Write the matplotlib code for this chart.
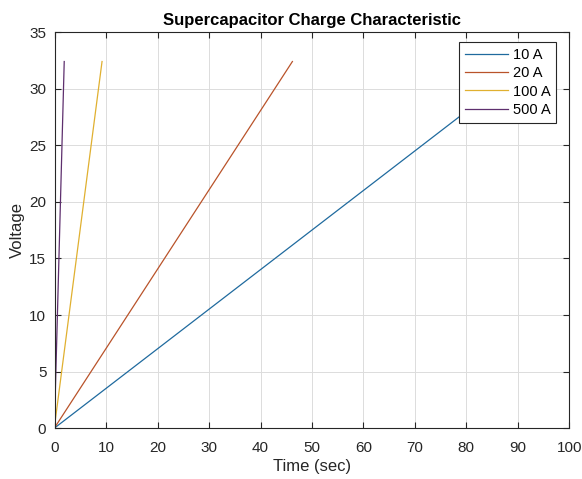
import matplotlib
matplotlib.use('Agg')
import matplotlib.pyplot as plt

plt.rcParams['font.family'] = ['Liberation Sans', 'DejaVu Sans']

# charge curves: time (sec) vs voltage, one per charging current
labels = ['10 A', '20 A', '100 A', '500 A']
t_10 = [0, 0, 92.6]
v_10 = [0, 0.03, 32.4]
t_20 = [0, 0, 46.2]
v_20 = [0, 0.06, 32.4]
t_100 = [0, 0, 9.2]
v_100 = [0, 0.3, 32.4]
t_500 = [0, 0.02, 1.85]
v_500 = [0, 1.5, 32.4]
colors = ['#1f6a9e', '#b9532a', '#e0b030', '#5e2f6e']

fig = plt.figure(figsize=(5.82, 4.79), dpi=100)
ax = fig.add_axes([0.094, 0.106, 0.884, 0.827])

for t, v, c, lab in zip([t_10, t_20, t_100, t_500], [v_10, v_20, v_100, v_500], colors, labels):
    ax.plot(t, v, color=c, lw=0.9, label=lab)

ax.set_xlim(0, 100)
ax.set_ylim(0, 35)
ax.set_xticks(range(0, 101, 10))
ax.set_yticks(range(0, 36, 5))
ax.grid(True, color='#dcdcdc', lw=0.7)
ax.set_axisbelow(True)
ax.tick_params(direction='in', length=4, labelsize=11, colors='#262626', top=True, right=True)
ax.tick_params(axis='x', pad=9)
ax.tick_params(axis='y', pad=6)
for s in ax.spines.values():
    s.set_color('#262626')
    s.set_linewidth(0.8)

ax.set_xlabel('Time (sec)', fontsize=12, color='#262626', labelpad=3)
ax.set_ylabel('Voltage', fontsize=12, color='#262626', labelpad=3)
ax.set_title('Supercapacitor Charge Characteristic', fontsize=12, fontweight='bold', pad=5)

leg = ax.legend(loc='upper right', bbox_to_anchor=(0.975, 0.975), fontsize=10.5, fancybox=False,
                framealpha=1, edgecolor='#262626', handlelength=3.0, handletextpad=0.3,
                borderpad=0.4, labelspacing=0.3, borderaxespad=0)
leg.get_frame().set_linewidth(0.8)

fig.savefig('out.png', dpi=100)
